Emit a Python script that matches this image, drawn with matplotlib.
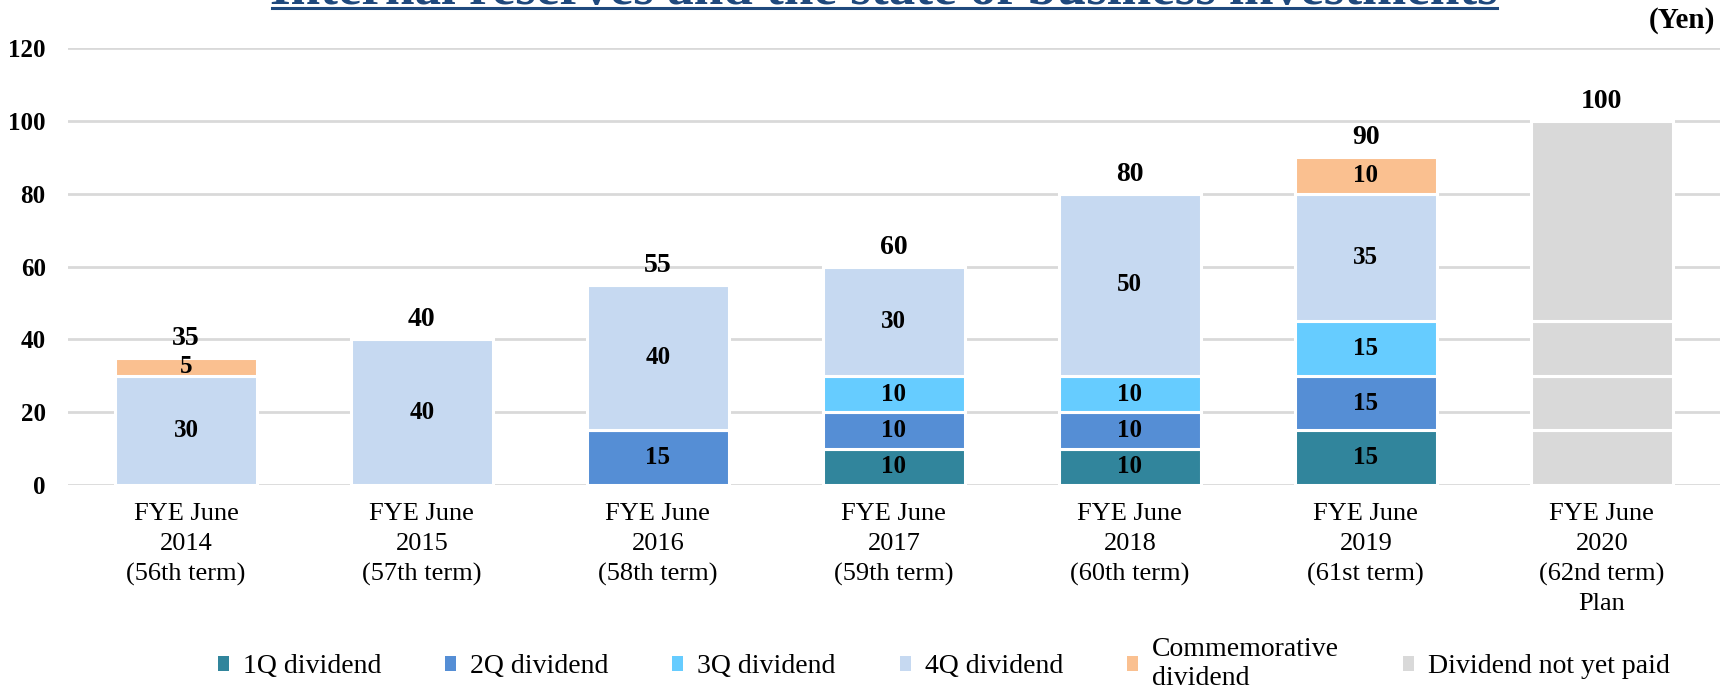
import matplotlib
matplotlib.use("Agg")
from matplotlib import pyplot as plt
from matplotlib.patches import Patch
from matplotlib.lines import Line2D
import numpy as np

plt.rcParams['font.family'] = ['Liberation Serif', 'DejaVu Serif']

years = ['FYE June\n2014\n(56th term)', 'FYE June\n2015\n(57th term)', 'FYE June\n2016\n(58th term)',
         'FYE June\n2017\n(59th term)', 'FYE June\n2018\n(60th term)', 'FYE June\n2019\n(61st term)',
         'FYE June\n2020\n(62nd term)\nPlan']
q1 = [0, 0, 0, 10, 10, 15, 0]
q2 = [0, 0, 15, 10, 10, 15, 0]
q3 = [0, 0, 0, 10, 10, 15, 0]
q4 = [30, 40, 40, 30, 50, 35, 0]
comm = [5, 0, 0, 0, 0, 10, 0]
# plan year, not yet paid, by quarter
unpaid_q = [15, 15, 15, 55]
totals = [35, 40, 55, 60, 80, 90, 100]

names = ['1Q dividend', '2Q dividend', '3Q dividend', '4Q dividend', 'Commemorative\ndividend', 'Dividend not yet paid']
colors = ['#31859C', '#558ED5', '#66CCFF', '#C6D9F1', '#FAC090', '#D9D9D9']

fig = plt.figure(figsize=(17.25, 6.88), dpi=100)
ax = fig.add_axes([0.0394, 0.295, 0.9576, 0.635])

x = np.arange(len(years))
w = 0.6
bottom = np.zeros(len(years))
for vals, c in zip([q1, q2, q3, q4, comm], colors[:5]):
    vals = np.array(vals, dtype=float)
    ax.bar(x, vals, w, bottom=bottom, color=c, edgecolor='white', linewidth=2.2, zorder=3)
    for i in range(len(x)):
        if vals[i] > 0:
            ax.text(x[i], bottom[i] + vals[i] / 2, str(int(vals[i])), ha='center', va='center',
                    fontsize=18, fontweight='bold', zorder=4)
    bottom = bottom + vals

# plan year segments (grey)
b = 0
for v in unpaid_q:
    ax.bar(x[-1], v, w, bottom=b, color=colors[5], edgecolor='white', linewidth=2.2, zorder=3)
    b += v

for i in range(len(x)):
    ax.annotate(str(totals[i]), (x[i], totals[i]), xytext=(0, 5), textcoords='offset points',
                ha='center', va='bottom', fontsize=20, fontweight='bold')

ax.set_xlim(-0.5, 6.5)
ax.set_ylim(0, 120)
ax.set_yticks(range(0, 121, 20))
ax.set_xticks(x)
ax.set_xticklabels(years, fontsize=19, linespacing=1.45)
ax.set_yticklabels([str(v) for v in range(0, 121, 20)], fontsize=18, fontweight='bold')
ax.tick_params(axis='both', length=0)
ax.tick_params(axis='x', pad=13)
ax.tick_params(axis='y', pad=16)
ax.yaxis.grid(True, color='#D9D9D9', linewidth=2, zorder=0)
ax.set_axisbelow(True)
for s in ax.spines.values():
    s.set_visible(False)

fig.text(1715 / 1725, 1 - 21 / 688, '(Yen)', ha='right', va='center', fontsize=21, fontweight='bold')

# title, clipped at the top edge
t = fig.text(884 / 1725, 1 - 4 / 688, 'Internal reserves and the state of business investments',
             ha='center', va='baseline', fontsize=30, fontweight='bold', color='#1F497D')
fig.canvas.draw()
tw = t.get_window_extent().width
t.set_fontsize(30 * 1225 / tw)
fig.add_artist(Line2D([272 / 1725, 1497 / 1725], [1 - 8 / 688, 1 - 8 / 688], color='#1F497D',
                      linewidth=2.2, transform=fig.transFigure))

handles = [Patch(facecolor=c, edgecolor='none') for c in colors]
fig.legend(handles, names, loc='center', bbox_to_anchor=(0.547, 0.035), ncol=6, frameon=False,
           fontsize=20, handlelength=0.4, handleheight=0.4, handletextpad=0.5, columnspacing=2.3)

fig.savefig('out.png', dpi=100)
